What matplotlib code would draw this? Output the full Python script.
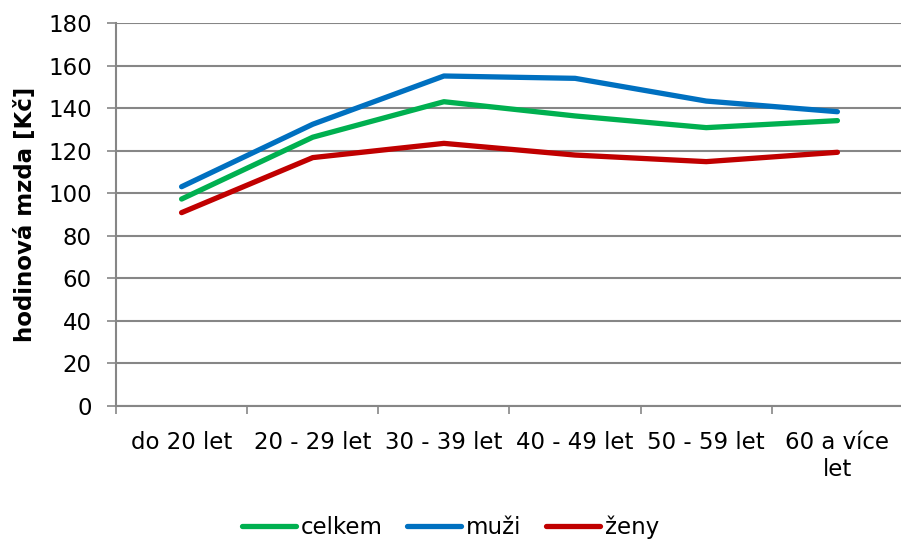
import matplotlib
matplotlib.use("Agg")
import matplotlib.pyplot as plt
from matplotlib.ticker import FixedLocator

categories = ["do 20 let", "20 - 29 let", "30 - 39 let", "40 - 49 let", "50 - 59 let", "60 a více\nlet"]
celkem = [97.3, 126.4, 143.1, 136.4, 130.9, 134.2]
muzi = [103.1, 132.5, 155.2, 154.1, 143.4, 138.4]
zeny = [90.9, 116.8, 123.5, 118.0, 114.9, 119.3]
yticks = [0, 20, 40, 60, 80, 100, 120, 140, 160, 180]

FS = 16.5
plt.rcParams['font.family'] = ['DejaVu Sans']
fig = plt.figure(figsize=(9.01, 5.42), dpi=100)
ax = fig.add_axes([116/901, 1-405.8/542, (903-116)/901, (405.8-23.3)/542])

x = list(range(len(categories)))
grid_c = "#868686"
ax.plot(x, celkem, color="#00B050", lw=3.8, solid_capstyle="round", label="celkem", zorder=3)
ax.plot(x, muzi, color="#0070C0", lw=3.8, solid_capstyle="round", label="muži", zorder=3)
ax.plot(x, zeny, color="#C00000", lw=3.8, solid_capstyle="round", label="ženy", zorder=3)

ax.set_xlim(-0.5, len(categories)-0.5)
ax.set_ylim(0, 180)
ax.set_yticks(yticks)
ax.yaxis.grid(True, color=grid_c, lw=1.5)
ax.set_axisbelow(True)
ax.set_xticks(x)
ax.set_xticklabels(categories, fontsize=FS, linespacing=1.25)
ax.xaxis.set_minor_locator(FixedLocator([i-0.5 for i in range(len(categories)+1)]))
ax.tick_params(axis='x', which='major', length=0, pad=18)
ax.tick_params(axis='x', which='minor', length=6, width=1.2, color=grid_c)
ax.tick_params(axis='y', length=6.5, width=1.2, color=grid_c, labelsize=FS, pad=11)
for s in ["top", "right"]:
    ax.spines[s].set_visible(False)
for s in ["left", "bottom"]:
    ax.spines[s].set_color(grid_c)
    ax.spines[s].set_linewidth(1.5)

ax.set_ylabel("hodinová mzda [Kč]", fontsize=FS, fontweight="bold", labelpad=8)

fig.legend(loc="center", ncol=3, bbox_to_anchor=(0.5, 1-527/542), frameon=False,
           fontsize=FS, handlelength=2.35, handletextpad=0.2, columnspacing=1.1,
           borderpad=0, borderaxespad=0)

fig.savefig("out.png", dpi=100)
